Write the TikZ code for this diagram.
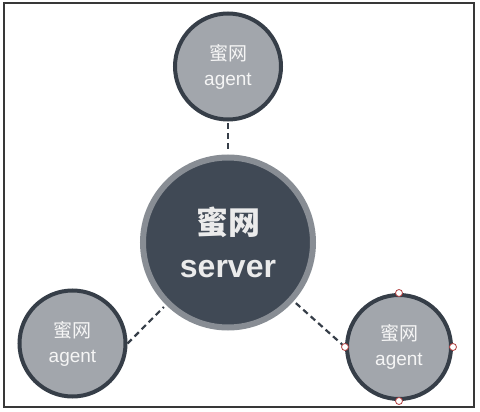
\documentclass[tikz,border=0pt]{standalone}
\usepackage{fontspec}
\setmainfont{Liberation Sans}
\newfontfamily\cjk{Noto Sans CJK SC}
\usepackage{tikz}
\usetikzlibrary{positioning}
\definecolor{agentfill}{HTML}{A2A6AC}
\definecolor{slate}{HTML}{363E48}
\definecolor{serverfill}{HTML}{404955}
\definecolor{ring}{HTML}{888D94}
\definecolor{handlered}{HTML}{B04040}

\begin{document}
\begin{tikzpicture}[x=1pt,y=-1pt,
  agent/.style={circle,fill=agentfill,draw=slate,line width=4pt,minimum size=106pt,inner sep=0pt,
    align=center,text=white!96!black,font=\fontsize{19}{25}\selectfont},
  server/.style={circle,fill=serverfill,draw=ring,line width=6pt,minimum size=170pt,inner sep=0pt,
    align=center,text=white!92!black,font=\fontsize{32}{43}\selectfont\bfseries},
  link/.style={draw=slate,line width=2.2pt,dash pattern=on 6pt off 4pt},
  handle/.style={circle,fill=white,draw=handlered,line width=0.8pt,minimum size=7pt,inner sep=0pt}]
\useasboundingbox (0,0) rectangle (480,412);
\draw[line width=2pt,draw=black!78] (4,3) rectangle (474,407);
% server and the three agents
\node[server] (srv) at (228,242.5) {{\cjk\bfseries 蜜网}\\server};
\node[agent] (top) at (228,66.5) {{\cjk 蜜网}\\agent};
\node[agent] (left) at (72.5,343.5) {{\cjk 蜜网}\\agent};
\node[agent,minimum size=104pt] (right) at (399,347) {{\cjk 蜜网}\\agent};
% dashed links
\draw[link,shorten <=2pt,shorten >=2pt] (top.south) -- (srv);
\draw[link,shorten >=3pt] (left.east) -- (srv);
\draw[link,shorten >=3pt] (right.west) -- (srv);
% selection handles
\foreach \a in {north,west,east,south}
  \node[handle] (h-\a) at (right.\a) {};
\end{tikzpicture}
\end{document}
